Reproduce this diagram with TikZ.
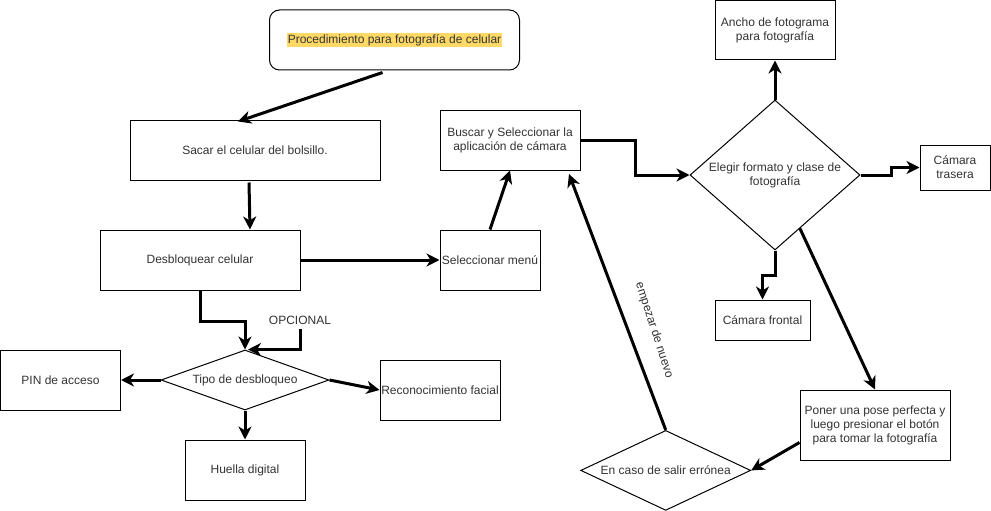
\documentclass[tikz,border=0pt]{standalone}
\usepackage{fontspec}
\setmainfont{Liberation Sans}
\usetikzlibrary{shapes.geometric,arrows.meta}
\definecolor{resaltado}{HTML}{FFD966}
\definecolor{texto}{HTML}{333333}

\begin{document}
\begin{tikzpicture}[x=1pt, y=-1pt,
    every node/.style={font=\fontsize{12}{14}\selectfont, text=texto},
    caja/.style={draw, line width=1pt, align=center, inner sep=0pt},
    rombo/.style={draw, diamond, line width=1pt, align=center, inner sep=0pt},
    flecha/.style={line width=3pt, -{Stealth[length=13pt,width=13pt,inset=4pt]}}]

    % Fix the size of the picture
    \path[use as bounding box, fill=white] (0,0) rectangle (991,511);

    % Title box with the highlighted text
    \node[caja, rounded corners=10pt, minimum width=250pt, minimum height=60pt] (titulo) at (394.5,40)
        {\setlength{\fboxsep}{1pt}\colorbox{resaltado}{Procedimiento para fotografía de celular}};

    % Left column of steps
    \node[caja, minimum width=250pt, minimum height=60pt] (sacar) at (255,150) {Sacar el celular del bolsillo.};
    \node[caja, minimum width=200pt, minimum height=60pt] (desbloquear) at (200,260) {Desbloquear celular};

    % Unlock decision and its options
    \node[rombo, minimum width=168pt, minimum height=60pt, aspect=2.8] (tipo) at (245,380) {Tipo de desbloqueo};
    \node[inner sep=4pt] (opcional) at (300,320.7) {OPCIONAL};
    \node[caja, minimum width=120pt, minimum height=60pt] (pin) at (60.5,380) {PIN de acceso};
    \node[caja, minimum width=120pt, minimum height=60pt] (reconocimiento) at (440,390) {Reconocimiento facial};
    \node[caja, minimum width=120pt, minimum height=60pt] (huella) at (245,470) {Huella digital};

    % Middle column
    \node[caja, minimum width=100pt, minimum height=60pt] (seleccionar) at (490,260) {Seleccionar menú};
    \node[caja, minimum width=140pt, minimum height=60pt] (buscar) at (510,140) {Buscar y Seleccionar la\\aplicación de cámara};

    % Camera format decision and its options
    \node[rombo, minimum width=170pt, minimum height=150pt, aspect=1.13] (elegir) at (775,175) {Elegir formato y clase de\\fotografía};
    \node[caja, minimum width=120pt, minimum height=59pt] (ancho) at (775,30.5) {Ancho de fotograma\\para fotografía};
    \node[caja, minimum width=70pt, minimum height=45pt] (trasera) at (955,167.5) {Cámara\\trasera};
    \node[caja, minimum width=95pt, minimum height=40pt] (frontal) at (762.5,320) {Cámara frontal};
    \node[caja, minimum width=150pt, minimum height=70pt] (poner) at (875,425) {Poner una pose perfecta y\\luego presionar el botón\\para tomar la fotografía};

    % Error decision
    \node[rombo, minimum width=170pt, minimum height=80pt, aspect=2.125] (erronea) at (665.7,470.4) {En caso de salir errónea};
    \coordinate (regreso) at (569,174);

    % Connectors of the left part
    \draw[flecha] ([xshift=-12pt, yshift=-2pt]titulo.south) -- ([xshift=-17pt, yshift=-2pt]sacar.north);
    \draw[flecha] ([xshift=-6pt, yshift=-2pt]sacar.south) -- ([xshift=50pt]desbloquear.north);
    \draw[flecha] (desbloquear.south) -- ++(0,30.7) -| (tipo.north);
    \draw[flecha] (opcional.south) |- ([xshift=3pt]tipo.north);
    \draw[flecha] (tipo.west) -- (pin.east);
    \draw[flecha] (tipo.east) -- (reconocimiento.west);
    \draw[flecha] (tipo.south) -- (huella.north);

    % Connectors of the middle part
    \draw[flecha] (desbloquear.east) -- (seleccionar.west);
    \draw[flecha] (seleccionar.north) -- (buscar.south);
    \draw[flecha] (buscar.east) -- ++(55,0) |- (elegir.west);

    % Connectors of the right part
    \draw[flecha] (elegir.north) -- (ancho.south);
    \draw[flecha] (elegir.east) -- ++(31,0) |- (trasera.west);
    \draw[flecha] (elegir.south) -- ++(0,25) -| (frontal.north);
    \draw[flecha] (elegir.-65) -- (poner.north);
    \draw[flecha] ([yshift=-17.5pt]poner.west) -- (erronea.east);
    \draw[flecha] (erronea.north) -- node[rotate=-72, above=14pt, pos=0.36] {empezar de nuevo} (regreso);

\end{tikzpicture}
\end{document}
